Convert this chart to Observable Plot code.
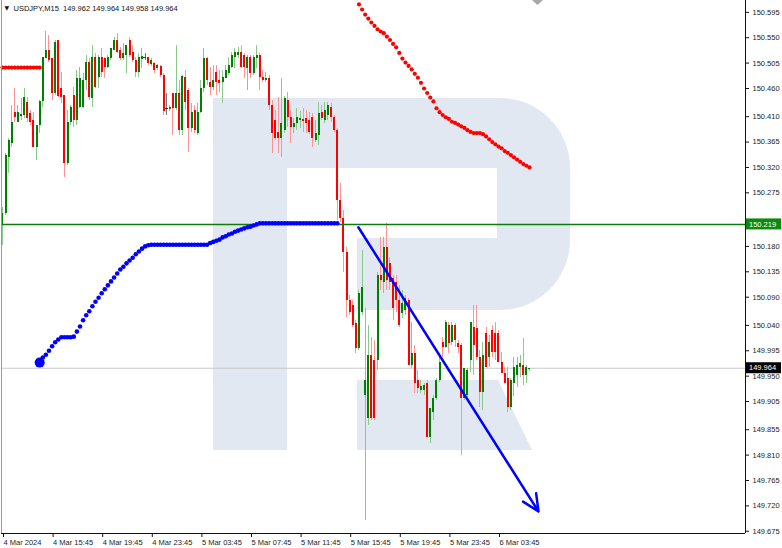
<!DOCTYPE html>
<html><head><meta charset="utf-8">
<script src="https://cdn.jsdelivr.net/npm/d3@7"></script>
<script src="https://cdn.jsdelivr.net/npm/@observablehq/plot@0.6"></script>
<style>
html,body{margin:0;padding:0;background:#fff;}
#chart{width:782px;height:548px;overflow:hidden;}
</style></head><body><div id="chart"></div>
<script>
const symbol = "USDJPY", timeframe = "M15";

const open = [150.217,150.238,150.338,150.363,150.418,150.400,150.410,150.412,150.435,150.416,
150.403,150.355,150.394,150.437,150.513,150.527,150.513,150.451,150.545,150.460,
150.448,150.327,150.400,150.448,150.403,150.426,150.426,150.474,150.506,150.442,
150.515,150.480,150.515,150.513,150.497,150.513,150.527,150.545,150.527,150.513,
150.518,150.545,150.524,150.510,150.488,150.511,150.515,150.515,150.503,150.504,
150.495,150.499,150.483,150.425,150.423,150.451,150.425,150.451,150.386,150.480,
150.456,150.389,150.421,150.380,150.418,150.460,150.513,150.471,150.462,150.488,
150.474,150.471,150.478,150.487,150.497,150.515,150.518,150.524,150.518,150.495,
150.515,150.487,150.513,150.518,150.480,150.474,150.478,150.430,150.403,150.382,
150.371,150.386,150.439,150.409,150.391,150.398,150.403,150.405,150.407,150.403,
150.409,150.368,150.377,150.418,150.403,150.412,150.426,150.409,150.386,150.261,
150.230,150.169,150.084,150.075,150.043,149.999,150.063,149.916,149.875,149.987,
149.978,149.978,150.128,150.116,150.178,150.150,150.123,150.116,150.084,150.061,
150.066,150.084,149.969,149.990,149.942,149.925,149.925,149.937,149.841,149.886,
149.910,149.942,150.010,150.001,150.040,150.010,150.040,150.008,150.004,149.910,
149.916,149.978,150.036,150.034,149.983,149.921,150.026,149.983,150.031,150.026,
150.026,149.974,149.955,149.946,149.894,149.937,149.951,149.965,149.969,149.951,
149.962];
const high = [150.249,150.345,150.371,150.430,150.460,150.430,150.442,150.460,150.444,150.421,
150.418,150.394,150.439,150.515,150.561,150.554,150.513,150.545,150.545,150.488,
150.448,150.421,150.430,150.462,150.492,150.497,150.487,150.518,150.513,150.536,
150.522,150.518,150.531,150.515,150.518,150.531,150.550,150.558,150.533,150.540,
150.536,150.550,150.536,150.515,150.522,150.531,150.522,150.515,150.513,150.506,
150.503,150.501,150.487,150.451,150.430,150.451,150.536,150.474,150.483,150.492,
150.460,150.433,150.430,150.433,150.474,150.531,150.515,150.497,150.501,150.501,
150.492,150.492,150.501,150.515,150.524,150.531,150.533,150.536,150.522,150.518,
150.518,150.518,150.536,150.522,150.492,150.488,150.483,150.439,150.421,150.444,
150.478,150.446,150.453,150.421,150.407,150.425,150.419,150.425,150.421,150.418,
150.416,150.403,150.435,150.430,150.435,150.435,150.433,150.412,150.389,150.292,
150.244,150.178,150.093,150.084,150.049,150.102,150.173,150.070,150.040,150.019,
150.013,150.134,150.196,150.196,150.221,150.160,150.128,150.128,150.111,150.102,
150.093,150.088,150.045,150.004,149.960,149.942,149.937,149.942,149.893,149.916,
149.946,149.987,150.019,150.049,150.045,150.045,150.043,150.013,150.008,149.964,
149.964,150.045,150.075,150.075,149.995,150.010,150.036,150.022,150.040,150.045,
150.031,149.992,149.965,149.965,149.946,149.983,149.983,149.987,150.017,149.969,
149.964];
const low = [150.182,150.235,150.309,150.355,150.400,150.400,150.403,150.407,150.400,150.394,
150.355,150.332,150.380,150.426,150.513,150.506,150.439,150.448,150.444,150.433,
150.302,150.323,150.394,150.391,150.394,150.425,150.425,150.456,150.439,150.426,
150.460,150.460,150.480,150.478,150.495,150.510,150.527,150.522,150.510,150.510,
150.487,150.515,150.506,150.480,150.480,150.495,150.510,150.501,150.499,150.487,
150.492,150.480,150.412,150.412,150.419,150.377,150.421,150.377,150.377,150.421,
150.347,150.382,150.380,150.377,150.416,150.453,150.465,150.448,150.456,150.448,
150.453,150.433,150.478,150.483,150.495,150.495,150.513,150.495,150.478,150.456,
150.478,150.483,150.495,150.456,150.471,150.471,150.421,150.345,150.368,150.345,
150.338,150.380,150.391,150.363,150.380,150.386,150.389,150.382,150.380,150.378,
150.355,150.364,150.359,150.403,150.398,150.403,150.400,150.382,150.226,150.222,
150.134,150.054,150.058,150.036,149.990,149.995,150.058,149.694,149.862,149.871,
149.871,149.960,150.102,150.097,150.102,150.102,150.049,150.063,150.036,150.052,
150.058,149.969,149.964,149.919,149.919,149.919,149.916,149.841,149.831,149.871,
149.907,149.939,149.983,149.999,149.990,150.004,150.001,149.990,149.809,149.907,
149.912,149.957,149.951,149.978,149.894,149.889,149.965,149.965,149.983,149.978,
149.974,149.955,149.937,149.886,149.889,149.914,149.930,149.948,149.933,149.937,
149.958];
const close = [150.238,150.341,150.368,150.400,150.409,150.418,150.414,150.444,150.407,150.400,
150.355,150.394,150.437,150.515,150.527,150.510,150.451,150.542,150.446,150.444,
150.327,150.400,150.426,150.403,150.478,150.478,150.474,150.506,150.444,150.515,
150.462,150.515,150.488,150.497,150.515,150.531,150.545,150.524,150.513,150.522,
150.536,150.518,150.510,150.488,150.515,150.517,150.515,150.504,150.510,150.492,
150.501,150.483,150.419,150.425,150.426,150.425,150.451,150.386,150.481,150.435,
150.389,150.418,150.386,150.418,150.460,150.513,150.474,150.462,150.474,150.471,
150.469,150.480,150.492,150.501,150.518,150.524,150.524,150.497,150.497,150.515,
150.487,150.515,150.518,150.480,150.474,150.478,150.430,150.380,150.371,150.371,
150.398,150.442,150.409,150.391,150.398,150.409,150.407,150.401,150.398,150.382,
150.371,150.380,150.416,150.407,150.421,150.430,150.409,150.386,150.261,150.230,
150.169,150.084,150.063,150.040,149.999,150.097,150.107,149.942,149.987,149.875,
149.875,150.128,150.120,150.178,150.120,150.116,150.070,150.084,150.040,150.079,
150.088,149.969,149.990,149.937,149.928,149.932,149.933,149.841,149.893,149.910,
149.942,149.974,150.001,150.045,150.008,150.040,150.013,150.001,149.910,149.964,
149.960,150.045,150.004,149.983,149.921,149.987,149.965,150.010,149.992,149.992,
149.974,149.955,149.937,149.894,149.942,149.965,149.969,149.972,149.951,149.965,
149.964];

// blue stepped indicator (bars 12..108)
const blueStart = 12;
const blueLine = [149.974,149.983,149.988,149.995,150.003,150.010,150.015,150.019,150.019,150.019,
150.019,150.020,150.029,150.038,150.049,150.058,150.065,150.074,150.082,150.089,
150.097,150.104,150.111,150.118,150.125,150.132,150.139,150.144,150.150,150.155,
150.160,150.166,150.171,150.176,150.180,150.182,
150.183,150.183,150.183,150.183,150.183,150.183,150.183,150.183,150.183,150.183,
150.183,150.183,150.183,150.183,150.183,150.183,150.183,150.183,150.183,
150.186,150.188,150.190,150.192,150.196,150.198,150.201,150.203,150.206,150.208,
150.210,150.212,150.214,150.215,150.217,150.219,
150.221,150.221,150.221,150.221,150.221,150.221,150.221,150.221,150.221,150.221,
150.221,150.221,150.221,150.221,150.221,150.221,150.221,150.221,150.221,150.221,
150.221,150.221,150.221,150.221,150.221,150.221];

// red dotted indicator
const redLeftStart = 0;
const redLeft = [150.497,150.497,150.497,150.497,150.497,150.497,150.497,150.497,150.497,150.497,150.497,150.497,150.497];
const redRightStart = 115;
const redRight = [150.609,150.600,150.591,150.584,150.577,150.571,150.565,150.561,150.558,150.552,
150.546,150.539,150.533,150.523,150.513,150.506,150.500,150.494,150.486,150.479,
150.470,150.460,150.452,150.444,150.437,150.425,150.418,150.413,150.409,150.406,
150.401,150.399,150.396,150.393,150.390,150.386,150.383,150.381,150.381,150.381,
150.379,150.375,150.370,150.365,150.361,150.357,150.354,150.349,150.346,150.342,
150.338,150.334,150.330,150.326,150.323,150.320];

const trendBars = [114.8, 172.9];
const trendPrices = [150.214, 149.710];
const levelPrice = 150.219;
const bidPrice = 149.964;

const yTicks = [150.595,150.550,150.505,150.460,150.410,150.365,150.320,150.275,150.225,150.180,150.135,
150.090,150.040,149.995,149.950,149.905,149.855,149.810,149.765,149.720,149.675];
const xTickBars = [0,16,32,48,64,80,96,112,128,144,160];
const xTickLabels = ["4 Mar 2024","4 Mar 15:45","4 Mar 19:45","4 Mar 23:45","5 Mar 03:45","5 Mar 07:45",
"5 Mar 11:45","5 Mar 15:45","5 Mar 19:45","5 Mar 23:45","6 Mar 03:45"];

const xDomain = [-0.32, 239.68];
const yDomain = [149.671, 150.616];

const candles = open.map((o, i) => ({i, o, h: high[i], l: low[i], c: close[i],
  dir: close[i] > o ? 1 : close[i] < o ? -1 : 0}));
const bodyCol = d => d.dir > 0 ? "#008000" : d.dir < 0 ? "#ff0000" : "#333333";
const wickCol = d => d.dir > 0 ? "#8cc88c" : d.dir < 0 ? "#ff9494" : "#777777";
const blueData = blueLine.map((v, k) => ({i: blueStart + k, v}));
const redData = redLeft.map((v, k) => ({i: redLeftStart + k, v}))
  .concat(redRight.map((v, k) => ({i: redRightStart + k, v})));
const thin = candles.filter(d => Math.abs(d.o - d.c) < 0.002);
const last = candles[candles.length - 1];
const title = `${symbol},${timeframe}  ${last.o.toFixed(3)} ${last.h.toFixed(3)} ${last.l.toFixed(3)} ${last.c.toFixed(3)}`;
// the tick label hidden behind the level box is not drawn as separate text
const levelTickHidden = v => Math.abs(v - levelPrice) < 0.01;

const chart = Plot.plot({
  width: 782, height: 548,
  marginLeft: 1, marginRight: 37, marginTop: 0, marginBottom: 15,
  style: {fontFamily: "'Liberation Sans', Arial, sans-serif", fontSize: "7.5px", color: "#1c1c1c", background: "#ffffff"},
  x: {domain: xDomain, axis: null},
  y: {domain: yDomain, axis: null},
  marks: [
    Plot.ruleY([bidPrice], {stroke: "#c8c8c8", strokeWidth: 1}),
    Plot.ruleX(candles, {x: "i", y1: "l", y2: "h", stroke: wickCol, strokeWidth: 1, shapeRendering: "crispEdges"}),
    Plot.ruleX(candles, {x: "i", y1: "o", y2: "c", stroke: bodyCol, strokeWidth: 2, shapeRendering: "crispEdges"}),
    Plot.ruleY(thin, {y: "c", x1: d => d.i - 0.5, x2: d => d.i + 0.5, stroke: bodyCol, strokeWidth: 1, shapeRendering: "crispEdges"}),
    Plot.ruleY([levelPrice], {stroke: "#0b7d0b", strokeWidth: 1.5}),
    Plot.dot(blueData, {x: "i", y: "v", r: 2.3, fill: "#0000ff", stroke: "none"}),
    Plot.dot(blueData.slice(0, 1), {x: "i", y: "v", r: 5, fill: "#0000ff", stroke: "none"}),
    Plot.dot(redData, {x: "i", y: "v", r: 2.1, fill: "#ff0000", stroke: "none"}),
    Plot.arrow([0], {x1: () => trendBars[0], y1: () => trendPrices[0], x2: () => trendBars[1], y2: () => trendPrices[1],
      stroke: "#0000ff", strokeWidth: 2.5, headLength: 11, headAngle: 50}),
    Plot.ruleX([xDomain[0]], {stroke: "#9a9a9a"}),
    Plot.ruleX([xDomain[1]], {stroke: "#111"}),
    Plot.ruleY([yDomain[0]], {stroke: "#111"}),
    Plot.axisY(yTicks, {anchor: "right", label: null, tickSize: 3, tickPadding: 4, tickFormat: d => levelTickHidden(d) ? "" : d.toFixed(3), textAnchor: "start", stroke: "#111", fill: "#1c1c1c"}),
    Plot.axisX(xTickBars, {anchor: "bottom", label: null, tickSize: 4, tickPadding: 2, textAnchor: "start", dx: 1,
      tickFormat: d => xTickLabels[xTickBars.indexOf(d)], stroke: "#111", fill: "#1c1c1c"}),
    Plot.text([title], {frameAnchor: "top-left", dx: 12, dy: 8, textAnchor: "start", lineAnchor: "middle", fill: "#111", fontSize: 7.5}),
    Plot.text(["▼"], {frameAnchor: "top-left", dx: 3, dy: 8, textAnchor: "start", lineAnchor: "middle", fill: "#111", fontSize: 6, fontFamily: "DejaVu Sans"})
  ]
});
document.getElementById("chart").appendChild(chart);

// decorative background watermark + price label boxes
const svg = d3.select(chart);
const ns = "http://www.w3.org/2000/svg";
const wm = document.createElementNS(ns, "g");
wm.setAttribute("fill", "#e2e8f1");
wm.innerHTML = `
<rect x="213" y="98" width="74" height="352"/>
<path d="M287,98 H500 A70,70 0 0 1 570,168 V240 A70,70 0 0 1 500,310 H357 V238 H497 V168 H287 Z"/>
<path d="M357,380 H498 L532,450 H357 Z"/>
<path d="M532,0 H543 L537.5,5 Z" fill="#a8a8a8"/>`;
const firstMark = chart.querySelector("style") ? chart.querySelector("style").nextSibling : chart.firstChild;
chart.insertBefore(wm, firstMark);

const sy = chart.scale("y");
function priceBox(v, bg) {
  const y = sy.apply(v);
  svg.append("rect").attr("x", 746).attr("y", y - 5.5).attr("width", 35).attr("height", 11).attr("fill", bg);
  svg.append("text").attr("x", 749).attr("y", y).attr("dy", "0.35em").attr("fill", "#fff")
    .attr("text-anchor", "start").style("font-size", "7.5px").text(v.toFixed(3));
}
priceBox(levelPrice, "#0b8a0b");
priceBox(bidPrice, "#000000");
</script></body></html>
